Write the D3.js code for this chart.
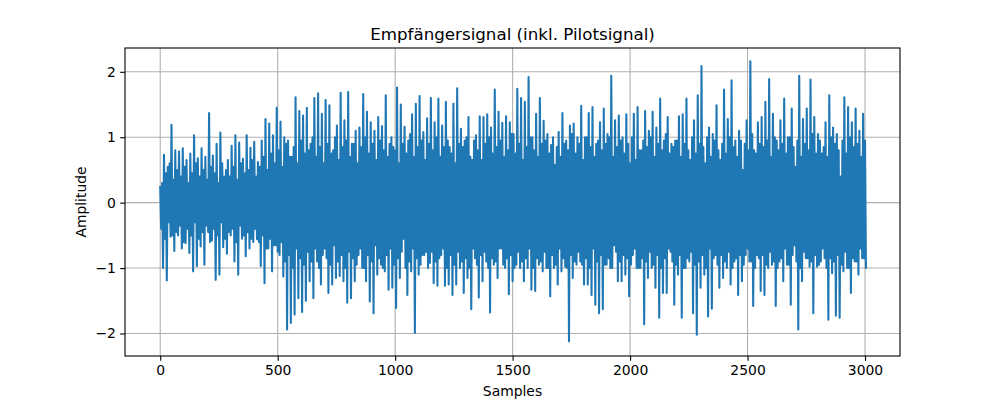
<!DOCTYPE html>
<html>
<head>
<meta charset="utf-8">
<script src="https://cdn.jsdelivr.net/npm/d3@7"></script>
<style>
body { margin: 0; background: #fff; }
text { font-family: "DejaVu Sans", sans-serif; fill: #000; }
</style>
</head>
<body>
<div class="graph-signal"></div>
<script>
// upper spikes, one per 16 samples (sample 0, 16, 32, ...)
var peaks = [
0.24, 0.73, 0.55, 1.19, 0.8, 0.78, 0.83, 0.65, 0.75, 1.03,
0.68, 0.83, 0.7, 1.37, 0.72, 0.9, 1.07, 0.4, 0.65, 0.87,
1.03, 0.92, 0.67, 1.03, 0.84, 0.93, 0.62, 0.95, 1.28, 1.21,
1.03, 1.45, 1.24, 1.0, 0.95, 0.7, 1.61, 1.4, 1.33, 1.45,
0.9, 1.6, 1.67, 1.36, 1.57, 1.49, 0.8, 1.18, 1.68, 1.26,
1.69, 0.9, 1.1, 1.15, 1.66, 1.39, 1.23, 1.1, 1.31, 1.17,
1.64, 0.9, 0.85, 1.76, 1.5, 1.16, 0.95, 1.35, 1.51, 1.63,
1.08, 1.29, 1.6, 1.23, 1.59, 1.18, 1.54, 0.85, 1.51, 1.75,
1.13, 0.95, 1.31, 0.65, 1.03, 1.32, 1.31, 1.35, 1.15, 1.73,
1.39, 1.22, 1.32, 1.23, 1.05, 1.74, 1.6, 1.54, 1.92, 1.0,
1.36, 1.6, 1.25, 1.05, 0.88, 0.58, 1.08, 1.37, 0.95, 1.18,
1.21, 1.0, 1.48, 1.0, 1.37, 1.46, 0.9, 1.23, 1.44, 1.05,
1.94, 1.26, 1.33, 1.0, 1.35, 0.6, 1.36, 1.46, 0.8, 1.4,
1.1, 1.39, 1.15, 1.59, 0.95, 1.31, 0.9, 0.95, 1.32, 1.35,
1.59, 0.65, 1.26, 1.64, 2.09, 0.6, 1.15, 1.05, 1.49, 0.65,
1.73, 1.28, 1.87, 0.95, 1.1, 0.5, 1.26, 2.16, 0.8, 1.23,
1.31, 1.54, 1.89, 1.36, 0.95, 1.26, 1.59, 1.0, 1.44, 0.55,
1.94, 1.28, 1.44, 1.88, 1.31, 1.05, 0.75, 1.23, 1.64, 1.15,
1.05, 0.4, 1.61, 1.46, 1.23, 1.44, 1.1, 1.36];

// dips inside the band (sample 4, 20, 36, ...)
var innerLow = [
-0.4, -0.55, -0.3, -0.5, -0.45, -0.35, -0.6, -0.4, -0.5, -0.3,
-0.55, -0.45, -0.35, -0.6, -0.4, -0.5, -0.3, -0.55, -0.45, -0.4,
-0.6, -0.35, -0.5, -0.45, -0.55, -0.4, -0.6, -0.5, -0.7, -0.55,
-0.65, -0.75, -0.6, -0.9, -0.8, -1.0, -0.7, -0.85, -0.95, -0.75,
-0.9, -0.7, -1.0, -0.8, -0.85, -0.95, -0.65, -0.9, -0.8, -1.0,
-0.75, -0.85, -0.95, -0.7, -1.0, -0.8, -0.9, -0.65, -0.85, -1.0,
-0.8, -0.7, -0.95, -0.85, -0.75, -1.0, -0.9, -0.7, -0.85, -0.95,
-0.8, -1.0, -0.75, -0.9, -0.85, -0.7, -1.0, -0.8, -0.95, -0.75,
-0.9, -0.85, -1.0, -0.7, -0.95, -0.8, -0.75, -1.0, -0.85, -0.9,
-0.7, -0.95, -0.85, -0.8, -1.0, -0.75, -0.9, -0.85, -0.7, -1.0,
-0.85, -0.9, -0.75, -1.0, -0.8, -0.95, -0.7, -0.85, -1.0, -0.8,
-0.9, -0.75, -0.95, -0.85, -1.0, -0.7, -0.9, -0.8, -0.95, -0.85,
-1.0, -0.75, -0.9, -0.8, -0.85, -0.95, -0.7, -1.0, -0.85, -0.9,
-0.75, -0.95, -0.8, -1.0, -0.85, -0.7, -0.9, -0.95, -0.8, -1.0,
-0.85, -0.75, -0.95, -0.9, -0.8, -1.0, -0.7, -0.85, -0.95, -0.8,
-0.9, -0.75, -1.0, -0.85, -0.8, -0.95, -0.7, -0.9, -1.0, -0.85,
-0.8, -0.95, -0.75, -0.9, -1.0, -0.85, -0.7, -0.95, -0.8, -0.9,
-1.0, -0.75, -0.85, -0.9, -0.8, -0.95, -0.7, -1.0, -0.85, -0.9,
-0.8, -0.95, -0.75, -1.0, -0.85, -0.9, -0.7, -0.85];

// bumps inside the band (sample 8, 24, 40, ...)
var innerHigh = [
0.3, 0.45, 0.6, 0.35, 0.5, 0.4, 0.55, 0.3, 0.45, 0.6,
0.4, 0.5, 0.35, 0.55, 0.45, 0.3, 0.6, 0.5, 0.4, 0.55,
0.35, 0.6, 0.45, 0.5, 0.65, 0.4, 0.55, 0.7, 0.5, 0.75,
0.6, 0.8, 0.55, 0.9, 0.7, 0.85, 0.6, 0.95, 0.75, 0.8,
1.0, 0.7, 0.85, 0.6, 0.9, 0.75, 1.0, 0.65, 0.85, 0.95,
0.7, 0.9, 0.6, 0.85, 1.0, 0.75, 0.9, 0.65, 0.95, 0.8,
0.7, 1.0, 0.8, 0.6, 0.9, 0.75, 1.05, 0.7, 0.85, 0.95,
0.65, 0.9, 0.8, 1.0, 0.7, 0.85, 0.95, 0.75, 0.6, 0.9,
0.85, 1.0, 0.7, 0.95, 0.8, 0.65, 0.9, 1.0, 0.75, 0.85,
0.95, 0.7, 0.8, 1.05, 0.75, 0.9, 0.65, 0.85, 1.0, 0.8,
0.7, 0.9, 0.95, 0.75, 1.0, 0.85, 0.7, 0.9, 0.8, 1.05,
0.75, 0.9, 0.65, 1.0, 0.85, 0.7, 0.95, 0.8, 0.9, 1.0,
0.7, 0.85, 0.95, 0.75, 0.9, 1.0, 0.65, 0.8, 0.95, 0.85,
1.0, 0.7, 0.9, 0.8, 1.05, 0.75, 0.85, 0.95, 0.7, 0.9,
0.8, 1.0, 0.75, 0.9, 0.85, 1.0, 0.7, 0.95, 0.8, 0.9,
0.75, 1.0, 0.85, 0.7, 0.95, 0.9, 0.8, 1.05, 0.75, 0.9,
0.85, 0.95, 0.7, 1.0, 0.8, 0.9, 0.75, 1.0, 0.85, 0.95,
0.7, 0.9, 0.8, 1.05, 0.75, 0.95, 0.85, 0.7, 1.0, 0.9,
0.8, 0.95, 0.75, 1.0, 0.85, 0.9, 0.7, 0.95];

// lower spikes (sample 12, 28, 44, ...)
var troughs = [
-1.0, -1.19, -0.52, -0.74, -0.5, -0.7, -0.62, -0.77, -1.05, -0.97,
-0.67, -0.95, -0.45, -0.58, -1.18, -1.1, -0.68, -0.78, -0.5, -0.9,
-1.1, -0.55, -0.82, -0.7, -0.6, -0.56, -0.97, -1.23, -0.7, -1.05,
-0.65, -0.8, -1.13, -1.94, -1.84, -1.71, -1.46, -1.67, -1.5, -1.2,
-1.46, -0.9, -1.25, -0.7, -1.38, -1.25, -1.15, -1.12, -1.2, -1.53,
-1.46, -1.2, -0.8, -1.0, -1.2, -1.51, -1.69, -1.1, -0.95, -1.05,
-1.33, -1.3, -1.61, -1.15, -0.55, -1.41, -1.05, -1.99, -1.1, -0.8,
-0.75, -0.92, -1.23, -1.27, -0.8, -1.27, -1.25, -1.41, -1.25, -1.0,
-1.38, -1.15, -1.63, -0.85, -1.45, -1.2, -0.9, -1.68, -0.95, -1.15,
-0.7, -1.0, -1.4, -1.2, -0.95, -1.0, -1.2, -1.0, -1.33, -1.35,
-0.95, -1.05, -1.0, -1.43, -1.0, -1.25, -1.05, -0.98, -2.12, -1.15,
-0.95, -0.9, -1.25, -1.25, -1.41, -1.56, -1.69, -1.63, -0.95, -1.0,
-0.65, -1.2, -1.2, -1.1, -1.43, -0.8, -1.0, -1.0, -1.86, -1.15,
-1.0, -1.3, -1.76, -1.38, -1.38, -0.75, -1.56, -1.1, -1.76, -1.0,
-0.9, -1.69, -2.02, -1.3, -1.1, -1.74, -1.62, -0.8, -1.3, -1.15,
-1.0, -1.25, -0.9, -1.41, -1.2, -0.8, -0.9, -1.58, -0.8, -1.35,
-1.41, -1.0, -0.95, -1.58, -0.9, -1.2, -0.95, -1.56, -0.65, -1.94,
-1.2, -0.85, -0.98, -1.69, -0.98, -0.9, -0.85, -1.79, -1.08, -1.73,
-1.76, -1.05, -1.0, -1.38, -0.9, -1.1, -0.85, -1.0];

var lastSample = 2999, lastValue = 0.33;

var xTicks = [0, 500, 1000, 1500, 2000, 2500, 3000];
var yTicks = [-2, -1, 0, 1, 2];

var width = 1000, height = 400,
	margin = {left: 125, right: 100, top: 48, bottom: 44},
	plotW = width - margin.left - margin.right,
	plotH = height - margin.top - margin.bottom;

// line points: peak, dip, bump, trough for every block of 16 samples
var data = [];
for (var k = 0; k < peaks.length; k++) {
	data.push({s: k*16, v: peaks[k]});
	data.push({s: k*16 + 4, v: innerLow[k]});
	data.push({s: k*16 + 8, v: innerHigh[k]});
	data.push({s: k*16 + 12, v: troughs[k]});
}
data.push({s: lastSample, v: lastValue});

var svg = d3.select(".graph-signal").append("svg")
	.attr("width", width)
	.attr("height", height);

var g = svg.append("g")
	.attr("transform", "translate(" + margin.left + "," + margin.top + ")");

var x = d3.scaleLinear().domain([-149.95, 3148.95]).range([0, plotW]);
var y = d3.scaleLinear().domain([-2.344, 2.364]).range([plotH, 0]);

// grid
g.selectAll(".xgrid").data(xTicks).enter().append("line")
	.attr("x1", function(d){return x(d);}).attr("x2", function(d){return x(d);})
	.attr("y1", 0).attr("y2", plotH)
	.attr("stroke", "#b0b0b0").attr("stroke-width", 1.1);
g.selectAll(".ygrid").data(yTicks).enter().append("line")
	.attr("y1", function(d){return y(d);}).attr("y2", function(d){return y(d);})
	.attr("x1", 0).attr("x2", plotW)
	.attr("stroke", "#b0b0b0").attr("stroke-width", 1.1);

var valueline = d3.line()
	.x(function(d){return x(d.s);})
	.y(function(d){return y(d.v);});

g.append("path")
	.datum(data)
	.attr("fill", "none")
	.attr("stroke", "#1f77b4")
	.attr("stroke-width", 2.08)
	.attr("stroke-linejoin", "round")
	.attr("stroke-linecap", "square")
	.attr("d", valueline);

// axes
var xAxis = g.append("g")
	.attr("transform", "translate(0," + plotH + ")")
	.call(d3.axisBottom(x).tickValues(xTicks).tickSize(4.86).tickPadding(4.2).tickFormat(d3.format("d")));
var yAxis = g.append("g")
	.call(d3.axisLeft(y).tickValues(yTicks).tickSize(4.86).tickPadding(4.2).tickFormat(d3.format("d")));

[xAxis, yAxis].forEach(function(a){
	a.select(".domain").remove();
	a.selectAll(".tick line").attr("stroke", "#000").attr("stroke-width", 1.1);
	a.selectAll(".tick text").attr("font-size", "13.9px").attr("font-family", "DejaVu Sans");
});

g.append("rect")
	.attr("width", plotW).attr("height", plotH)
	.attr("fill", "none").attr("stroke", "#000").attr("stroke-width", 1.1);

svg.append("text")
	.attr("x", margin.left + plotW/2).attr("y", 39.7)
	.attr("text-anchor", "middle")
	.attr("font-size", "16.7px")
	.text("Empfängersignal (inkl. Pilotsignal)");

svg.append("text")
	.attr("x", margin.left + plotW/2).attr("y", 396)
	.attr("text-anchor", "middle")
	.attr("font-size", "13.9px")
	.text("Samples");

svg.append("text")
	.attr("transform", "translate(86," + (margin.top + plotH/2) + ") rotate(-90)")
	.attr("text-anchor", "middle")
	.attr("font-size", "13.9px")
	.text("Amplitude");
</script>
</body>
</html>
